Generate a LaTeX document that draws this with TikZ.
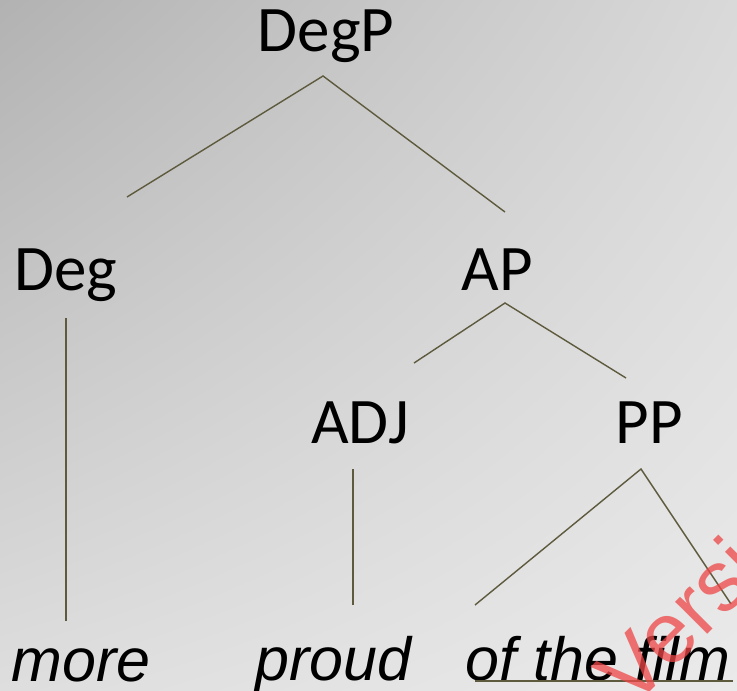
\documentclass[tikz,border=0pt]{standalone}
\usepackage{fontspec}
\setmainfont{Carlito}
\newfontfamily\leaffont{Liberation Sans}
\usepackage{tikz}
\usetikzlibrary{positioning,shadings}
\definecolor{branchcol}{RGB}{94,90,62}
\definecolor{stampcol}{RGB}{238,70,70}
\definecolor{bgul}{RGB}{178,178,178}
\definecolor{bgur}{RGB}{217,217,217}
\definecolor{bgll}{RGB}{222,222,222}
\definecolor{bglr}{RGB}{234,234,234}
\tikzset{
    cat/.style={
           font=\fontsize{65bp}{78bp}\selectfont,
           inner sep=0pt,
           text height=46bp,
           text depth=14bp,
           anchor=center,
           },
    leaf/.style={
           font=\leaffont\itshape\fontsize{61bp}{72bp}\selectfont,
           inner sep=0pt,
           text height=44bp,
           text depth=14bp,
           anchor=center,
           },
    branch/.style={
           draw=branchcol,
           line width=1.4bp,
           },
    stamp/.style={
           font=\leaffont\fontsize{86bp}{90bp}\selectfont,
           text=stampcol,
           opacity=0.75,
           inner sep=0pt,
           },
}

\begin{document}
\begin{tikzpicture}[x=1bp,y=-1bp]
      \useasboundingbox (0,0) rectangle (737,691);
      \clip (0,0) rectangle (737,691);
      % slide background
      \shade[upper left=bgul, upper right=bgur,
             lower left=bgll, lower right=bglr]
          (0,0) rectangle (737,691);

      % TOP: DegP
      \node[cat] (DegP) at (326,36) {DegP};

      % LEVEL 2
      \node[cat,
          below of=DegP,
          node distance=238.5bp,
          xshift=-260bp] (Deg) {Deg};
      \node[cat,
          right of=Deg,
          node distance=431.5bp] (AP) {AP};

      % LEVEL 3 (under AP)
      \node[cat,
          below of=AP,
          node distance=153bp,
          xshift=-137.5bp] (ADJ) {ADJ};
      \node[cat,
          right of=ADJ,
          node distance=289bp] (PP) {PP};

      % words
      \node[leaf,
          below of=Deg,
          node distance=391.5bp,
          xshift=15bp] (more) {more};
      \node[leaf,
          below of=ADJ,
          node distance=238bp,
          xshift=-26.5bp] (proud) {proud};
      \node[leaf,
          below of=PP,
          node distance=238bp,
          xshift=-51bp] (film) {of the film};

      % branch ends
      \coordinate (DegP-b) at (323,76);
      \coordinate (DegP-l) at (127,197);
      \coordinate (DegP-r) at (505,212);
      \coordinate (Deg-b) at (66,318);
      \coordinate (more-t) at (66,621);
      \coordinate (AP-b) at (505,303);
      \coordinate (AP-l) at (414,363);
      \coordinate (AP-r) at (626,378);
      \coordinate (ADJ-b) at (353,469);
      \coordinate (proud-t) at (353,605);
      \coordinate (PP-b) at (641,469);
      \coordinate (PP-l) at (475,605);
      \coordinate (PP-r) at (731,604);
      \coordinate (film-l) at (475,681);
      \coordinate (film-r) at (733,681);

      % draw the branches
      \draw[branch] (DegP-l) -- (DegP-b) -- (DegP-r);
      \draw[branch] (Deg-b) -- (more-t);
      \draw[branch] (AP-l) -- (AP-b) -- (AP-r);
      \draw[branch] (ADJ-b) -- (proud-t);
      \draw[branch] (PP-l) -- (PP-b) -- (PP-r);
      \draw[branch] (film-l) -- (film-r);

      % stamp across the corner
      \node[stamp, rotate=45, anchor=base west] (mark) at (632,710) {Version};
\end{tikzpicture}
\end{document}
